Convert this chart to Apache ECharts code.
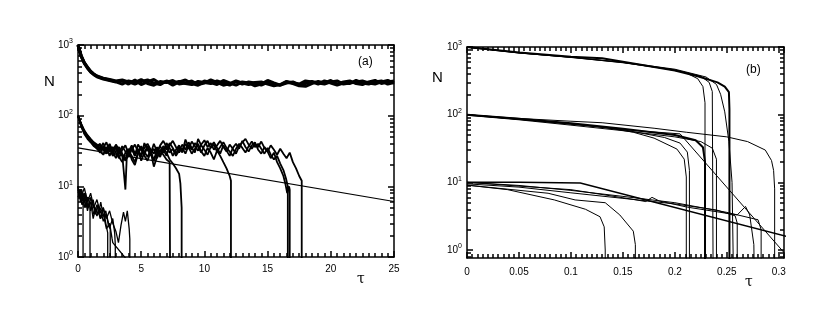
<!DOCTYPE html>
<html>
<head>
<meta charset="utf-8">
<script src="https://cdn.jsdelivr.net/npm/echarts@6/dist/echarts.min.js"></script>
<style>
  html, body { margin: 0; background: #fff; }
  #main { width: 830px; height: 322px; }
</style>
</head>
<body>
<div id="main"></div>
<script>
  // ---- tick labels ----
  const ticksAText = ['0', '5', '10', '15', '20', '25']
  const ticksBText = ['0', '0.05', '0.1', '0.15', '0.2', '0.25', '0.3']
  const decades = [0, 1, 2, 3] // exponents of 10 on the N axis

  // ---- panel (a) ----
  const tauBand = [0, 0.25, 0.5, 0.75, 1, 1.25, 1.5, 2, 2.5, 3,
    3.5, 4, 4.5, 5, 5.5, 6, 6.5, 7, 7.5, 8, 8.5, 9, 9.5, 10, 10.5, 11, 11.5, 12,
    12.5, 13, 13.5, 14, 14.5, 15, 15.5, 16, 16.5, 17, 17.5, 18, 18.5, 19, 19.5,
    20, 20.5, 21, 21.5, 22, 22.5, 23, 23.5, 24, 24.5, 25]
  const bandA1 = [1000, 700, 560, 480, 420, 385, 360, 335, 320, 305,
    310, 280, 320, 275, 300, 325, 285, 305, 270, 300,
    320, 285, 270, 310, 295, 275, 315, 290, 270, 300,
    290, 265, 280, 315, 290, 270, 300, 285, 265, 260,
    285, 305, 290, 315, 280, 300, 310, 285, 275, 300,
    315, 285, 300, 310]
  const bandA2 = [1000, 690, 550, 470, 415, 380, 355, 330, 315, 300,
    280, 310, 295, 325, 285, 270, 305, 295, 315, 280,
    290, 310, 275, 290, 320, 295, 270, 285, 310, 290,
    275, 295, 300, 280, 265, 275, 305, 290, 280, 310,
    300, 280, 310, 290, 270, 290, 285, 315, 290, 280,
    300, 310, 280, 295]
  const bandA3 = [1000, 710, 565, 485, 425, 390, 365, 340, 325, 310,
    320, 300, 280, 305, 320, 290, 275, 310, 290, 305,
    285, 275, 305, 295, 285, 310, 290, 270, 305, 280,
    300, 290, 270, 295, 280, 270, 290, 300, 275, 285,
    305, 290, 280, 300, 310, 280, 290, 300, 310, 290,
    280, 300, 315, 290]

  const midA1 = [[0, 100], [0.25, 74], [0.5, 60], [0.75, 50], [1, 45], [1.25, 41], [1.5, 37], [1.75, 40], [2, 32], [2.25, 36], [2.5, 27], [2.75, 33], [3, 38], [3.25, 26], [3.5, 22], [3.75, 30], [4, 34], [4.25, 24], [4.5, 20], [4.75, 29], [5, 35], [5.25, 27], [5.5, 23], [5.75, 31], [6, 19], [6.25, 26], [6.5, 33], [6.75, 28], [7, 24], [7.25, 22], [7.3, 0.1]]
  const midA2 = [[0, 100], [0.25, 72], [0.5, 57], [0.75, 49], [1, 43], [1.25, 38], [1.5, 34], [1.75, 30], [2, 37], [2.25, 29], [2.5, 40], [2.75, 31], [3, 25], [3.25, 34], [3.5, 28], [3.75, 9], [3.85, 24], [4, 30], [4.25, 36], [4.5, 27], [4.75, 33], [5, 23], [5.25, 30], [5.5, 37], [5.75, 29], [6, 40], [6.25, 31], [6.5, 26], [6.75, 35], [7, 30], [7.25, 24], [7.5, 21], [7.75, 18], [8, 15], [8.1, 11], [8.2, 5], [8.2, 0.1]]
  const midA3 = [[0, 100], [0.25, 77], [0.5, 62], [0.75, 53], [1, 47], [1.25, 42], [1.5, 39], [1.75, 34], [2, 41], [2.25, 31], [2.5, 35], [2.75, 28], [3, 39], [3.25, 33], [3.5, 27], [3.75, 23], [4, 31], [4.25, 38], [4.5, 29], [4.75, 34], [5, 26], [5.25, 41], [5.5, 33], [5.75, 28], [6, 24], [6.25, 32], [6.5, 37], [6.75, 30], [7, 41], [7.25, 35], [7.5, 27], [7.75, 33], [8, 38], [8.25, 30], [8.5, 46], [8.75, 36], [9, 29], [9.25, 34], [9.5, 40], [9.75, 31], [10, 27], [10.25, 35], [10.5, 30], [10.75, 24], [11, 32], [11.25, 27], [11.5, 22], [11.75, 18], [12, 14], [12.1, 12], [12.1, 0.1]]
  const midA4 = [[0, 100], [0.25, 70], [0.5, 55], [0.75, 47], [1, 42], [1.25, 37], [1.5, 35], [1.75, 38], [2, 33], [2.25, 29], [2.5, 36], [2.75, 27], [3, 31], [3.25, 36], [3.5, 29], [3.75, 24], [4, 32], [4.25, 27], [4.5, 22], [4.75, 30], [5, 37], [5.25, 31], [5.5, 26], [5.75, 33], [6, 23], [6.25, 29], [6.5, 38], [6.75, 44], [7, 36], [7.25, 30], [7.5, 34], [7.75, 27], [8, 32], [8.25, 39], [8.5, 33], [8.75, 42], [9, 35], [9.25, 30], [9.5, 47], [9.75, 38], [10, 33], [10.25, 28], [10.5, 36], [10.75, 42], [11, 35], [11.25, 29], [11.5, 38], [11.75, 32], [12, 27], [12.25, 35], [12.5, 40], [12.75, 34], [13, 44], [13.25, 36], [13.5, 31], [13.75, 38], [14, 42], [14.25, 33], [14.5, 29], [14.75, 36], [15, 31], [15.25, 25], [15.5, 30], [15.75, 22], [16, 18], [16.25, 14], [16.4, 11], [16.55, 8], [16.7, 10], [16.75, 9], [16.75, 0.1]]
  const midA5 = [[0, 100], [0.25, 76], [0.5, 60], [0.75, 52], [1, 46], [1.25, 40], [1.5, 38], [1.75, 33], [2, 35], [2.25, 42], [2.5, 31], [2.75, 36], [3, 30], [3.25, 25], [3.5, 33], [3.75, 38], [4, 29], [4.25, 34], [4.5, 27], [4.75, 39], [5, 33], [5.25, 28], [5.5, 36], [5.75, 30], [6, 34], [6.25, 25], [6.5, 31], [6.75, 37], [7, 33], [7.25, 41], [7.5, 35], [7.75, 29], [8, 36], [8.25, 31], [8.5, 40], [8.75, 34], [9, 43], [9.25, 37], [9.5, 32], [9.75, 39], [10, 45], [10.25, 36], [10.5, 41], [10.75, 33], [11, 38], [11.25, 44], [11.5, 36], [11.75, 31], [12, 39], [12.25, 34], [12.5, 29], [12.75, 37], [13, 42], [13.25, 47], [13.5, 39], [13.75, 34], [14, 40], [14.25, 36], [14.5, 43], [14.75, 35], [15, 31], [15.25, 38], [15.5, 33], [15.75, 28], [16, 34], [16.25, 29], [16.5, 25], [16.75, 30], [17, 22], [17.25, 18], [17.5, 14], [17.7, 12], [17.7, 0.1]]
  const midA6 = [[0, 100], [0.25, 73], [0.5, 58], [0.75, 51], [1, 44], [1.25, 39], [1.5, 36], [1.75, 31], [2, 28], [2.25, 34], [2.5, 39], [2.75, 30], [3, 35], [3.25, 29], [3.5, 37], [3.75, 31], [4, 26], [4.25, 33], [4.5, 39], [4.75, 31], [5, 28], [5.25, 35], [5.5, 40], [5.75, 33], [6, 29], [6.25, 36], [6.5, 28], [6.75, 33], [7, 27], [7.25, 38], [7.5, 44], [7.75, 36], [8, 30], [8.25, 35], [8.5, 29], [8.75, 38], [9, 33], [9.25, 41], [9.5, 36], [9.75, 30], [10, 38], [10.25, 44], [10.5, 35], [10.75, 39], [11, 31], [11.25, 36], [11.5, 42], [11.75, 35], [12, 31], [12.25, 27], [12.5, 34], [12.75, 40], [13, 35], [13.25, 30], [13.5, 37], [13.75, 43], [14, 36], [14.25, 40], [14.5, 34], [14.75, 29], [15, 35], [15.25, 28], [15.5, 24], [15.75, 27], [16, 21], [16.25, 17], [16.45, 13], [16.6, 10], [16.6, 0.1]]
  const fitA = [[0, 35], [25, 6.1]]

  const lowA1 = [[0, 9], [0.1, 7], [0.2, 8], [0.3, 5.5], [0.4, 6], [0.4, 0.1]]
  const lowA2 = [[0, 10], [0.15, 7], [0.3, 9], [0.45, 6], [0.6, 8], [0.75, 5], [0.9, 6], [0.95, 5], [0.95, 0.1]]
  const lowA3 = [[0, 10], [0.2, 6], [0.4, 8], [0.6, 5], [0.8, 7], [1, 4.5], [1.2, 6.5], [1.4, 4], [1.6, 5.5], [1.8, 3.5], [2, 5], [2.2, 3], [2.35, 2.2], [2.35, 0.1]]
  const lowA4 = [[0, 8], [0.2, 9], [0.4, 6], [0.6, 7.5], [0.8, 5], [1, 6], [1.2, 3.5], [1.4, 5], [1.6, 4], [1.8, 6], [2, 3.8], [2.2, 4.5], [2.4, 2.8], [2.55, 2.5], [2.55, 0.1]]
  const lowA5 = [[0, 7], [0.25, 9], [0.5, 5], [0.75, 7], [1, 6.5], [1.25, 4], [1.5, 5.5], [1.75, 3.5], [2, 4], [2.25, 2.5], [2.5, 3], [2.7, 1.8], [2.75, 1.6], [3.9, 0.9]]
  const lowA6 = [[0, 10], [0.25, 6], [0.5, 8], [0.75, 4.5], [1, 7], [1.25, 5], [1.5, 3.8], [1.75, 5], [2, 3.2], [2.25, 4], [2.5, 2.6], [2.75, 3.5], [2.9, 2.2], [2.95, 1.5], [2.95, 0.1]]
  const lowA7 = [[0, 9], [0.25, 7], [0.5, 9.5], [0.75, 6], [1, 8], [1.25, 5], [1.5, 6.5], [1.75, 4.2], [2, 5], [2.25, 3.5], [2.5, 4.5], [2.75, 3], [3, 2.3], [3.2, 1.6], [3.4, 2.8], [3.6, 4.3], [3.75, 3.2], [3.9, 4.5], [4.05, 2.5], [4.1, 1.8], [4.1, 0.1]]

  // ---- panel (b) ----
  const topB1 = [[0, 1000], [0.05, 830], [0.1, 720], [0.13, 680], [0.16, 570], [0.2, 450], [0.222, 370], [0.241, 300], [0.248, 260], [0.252, 215], [0.2525, 120], [0.2525, 0.1]]
  const topB2 = [[0, 1000], [0.05, 820], [0.1, 700], [0.15, 590], [0.19, 480], [0.21, 420], [0.222, 340], [0.227, 260], [0.229, 150], [0.229, 0.1]]
  const topB3 = [[0, 990], [0.05, 815], [0.1, 705], [0.15, 585], [0.2, 460], [0.225, 370], [0.233, 300], [0.236, 220], [0.237, 0.1]]
  const topB4 = [[0, 1000], [0.05, 825], [0.1, 710], [0.15, 595], [0.2, 470], [0.23, 360], [0.24, 280], [0.244, 200], [0.248, 110], [0.252, 40], [0.255, 10], [0.257, 0.1]]

  const midB1 = [[0, 100], [0.05, 88], [0.1, 80], [0.13, 76], [0.18, 63], [0.211, 55], [0.25, 47], [0.27, 40], [0.287, 30], [0.293, 21], [0.295, 15], [0.296, 8], [0.296, 0.1]]
  const midB2 = [[0, 100], [0.05, 86], [0.1, 72], [0.13, 66], [0.16, 55], [0.18, 45], [0.202, 31], [0.209, 22], [0.211, 12], [0.211, 0.1]]
  const midB3 = [[0, 100], [0.05, 85], [0.1, 74], [0.15, 60], [0.19, 46], [0.205, 38], [0.212, 28], [0.214, 15], [0.214, 0.1]]
  const midB4 = [[0, 100], [0.05, 87], [0.1, 75], [0.15, 62], [0.2, 50], [0.22, 42], [0.227, 33], [0.229, 20], [0.229, 0.1]]
  const midB5 = [[0, 98], [0.05, 84], [0.1, 70], [0.15, 58], [0.2, 47], [0.225, 40], [0.236, 32], [0.24, 22], [0.24, 0.1]]
  const midB6 = [[0, 100], [0.05, 86], [0.1, 73], [0.15, 60], [0.205, 52], [0.31, 0.75]]

  const lowB1 = [[0, 10], [0.05, 10], [0.109, 9.8], [0.31, 1.55]]
  const lowB2 = [[0, 10], [0.05, 8.8], [0.1, 7.8], [0.16, 5.6], [0.172, 5.2], [0.178, 6], [0.185, 5.3], [0.212, 4.3], [0.26, 3.3], [0.268, 4.4], [0.272, 3.3], [0.276, 1.2], [0.277, 0.1]]
  const lowB3 = [[0, 9.1], [0.078, 6.9], [0.104, 5.5], [0.133, 5], [0.147, 3.3], [0.16, 1.9], [0.162, 1.2], [0.162, 0.1]]
  const lowB4 = [[0, 9.1], [0.039, 7.8], [0.084, 5.5], [0.114, 4], [0.128, 3.1], [0.132, 2.2], [0.133, 1], [0.133, 0.1]]
  const lowB5 = [[0, 9.5], [0.05, 8.5], [0.1, 7], [0.15, 5.8], [0.2, 4.8], [0.24, 3.9], [0.258, 3.2], [0.26, 2.5], [0.26, 0.1]]
  const lowB6 = [[0, 10], [0.05, 9], [0.1, 7.6], [0.15, 6.2], [0.2, 5], [0.25, 3.6], [0.28, 2.8], [0.283, 2], [0.283, 0.1]]

  // ---- axes helpers ----
  const font = 'Liberation Sans, Arial, sans-serif'
  const black = '#000'
  const minA = 1
  const minB = 0.762
  const logMinor = (lo) => {
    const arr = []
    for (let d = -1; d < 3; d++) {
      for (let k = 2; k <= 9; k++) {
        const v = d + Math.log10(k)
        if (v > lo) arr.push(v)
      }
    }
    return arr
  }

  // overlay value axis in log10 units, only for the frame, ticks and labels
  const yFrame = (g, lo, pos, major) => ({
    type: 'value', gridIndex: g, min: Math.log10(lo), max: 3, position: pos,
    axisLine: { show: major, onZero: false, lineStyle: { color: black, width: 1.5 } },
    axisTick: {
      show: true, inside: true, length: major ? 6 : 4,
      lineStyle: { color: black, width: 1.5 },
      customValues: major ? decades : logMinor(Math.log10(lo)),
    },
    axisLabel: {
      show: major && pos === 'left',
      customValues: decades,
      margin: 5,
      formatter: (v) => `{b|10}{s|${Math.round(v)}}`,
      rich: {
        b: { fontSize: 10, fontFamily: font, color: black },
        s: { fontSize: 7, fontFamily: font, color: black, padding: [0, 0, 7, 0] },
      },
    },
    splitLine: { show: false },
  })
  const yData = (g, lo) => ({
    type: 'log', logBase: 10, gridIndex: g, min: lo, max: 1000, show: false,
  })

  // major: labelled ticks; minor: short ticks at a fixed step from 0
  const xFrame = (g, max, pos, major, step, texts, margin, lastLabel) => ({
    type: 'value', gridIndex: g, min: 0, max: max, interval: step, position: pos,
    axisLine: { show: major, onZero: false, lineStyle: { color: black, width: 1.5 } },
    axisTick: {
      show: true, inside: true, length: major ? 6 : 4,
      lineStyle: { color: black, width: 1.5 },
    },
    axisLabel: {
      show: major && pos === 'bottom',
      showMaxLabel: lastLabel,
      showMinLabel: true,
      hideOverlap: false,
      margin: margin,
      fontSize: 10, fontFamily: font, color: black,
      formatter: (v) => {
        const i = Math.round(v / step)
        return texts ? (texts[i] || '') : String(v)
      },
    },
    splitLine: { show: false },
  })

  const line = (data, xi, yi, w) => ({
    type: 'line', xAxisIndex: xi, yAxisIndex: yi, data: data,
    showSymbol: false, symbol: 'none', smooth: false, clip: true,
    lineStyle: { color: black, width: w || 1 },
    silent: true,
  })

  const option = {
    animation: false,
    backgroundColor: '#fff',
    grid: [
      { left: 78, top: 45, width: 316, height: 212 },
      { left: 467, top: 47, width: 317, height: 211 },
    ],
    xAxis: [
      xFrame(0, 25, 'bottom', true, 5, ticksAText, 7, true), // 0 data a
      xFrame(0, 25, 'bottom', false, 0.5, null, 7, false),
      xFrame(0, 25, 'top', true, 5, ticksAText, 7, false),
      xFrame(0, 25, 'top', false, 0.5, null, 7, false),
      xFrame(1, 0.305, 'bottom', true, 0.05, ticksBText, 9, false), // 4 data b
      xFrame(1, 0.305, 'bottom', false, 0.005, null, 9, false),
      xFrame(1, 0.305, 'top', true, 0.05, ticksBText, 9, false),
      xFrame(1, 0.305, 'top', false, 0.005, null, 9, false),
    ],
    yAxis: [
      yData(0, minA), // 0
      yFrame(0, minA, 'left', true),
      yFrame(0, minA, 'left', false),
      yFrame(0, minA, 'right', true),
      yFrame(0, minA, 'right', false),
      yData(1, minB), // 5
      yFrame(1, minB, 'left', true),
      yFrame(1, minB, 'left', false),
      yFrame(1, minB, 'right', true),
      yFrame(1, minB, 'right', false),
    ],
    graphic: [
      { type: 'text', left: 44, top: 74, style: { text: 'N', fontSize: 15, fontFamily: font, fill: black } },
      { type: 'text', left: 432, top: 70, style: { text: 'N', fontSize: 15, fontFamily: font, fill: black } },
      { type: 'text', left: 357, top: 272, style: { text: 'τ', fontSize: 14, fontFamily: 'DejaVu Serif, serif', fill: black } },
      { type: 'text', left: 745, top: 275, style: { text: 'τ', fontSize: 14, fontFamily: 'DejaVu Serif, serif', fill: black } },
      { type: 'text', left: 358, top: 56, style: { text: '(a)', fontSize: 12, fontFamily: font, fill: black } },
      { type: 'text', left: 746, top: 64, style: { text: '(b)', fontSize: 12, fontFamily: font, fill: black } },
    ],
    series: [],
  }

  const tz = (ys) => tauBand.map((t, i) => [t, ys[i]])
  ;[tz(bandA1), tz(bandA2), tz(bandA3)].forEach((d) => option.series.push(line(d, 0, 0, 3)))
  ;[midA1, midA2, midA3, midA4, midA5, midA6].forEach((d) => option.series.push(line(d, 0, 0, 1.8)))
  option.series.push(line(fitA, 0, 0, 1.2))
  ;[lowA1, lowA2, lowA3, lowA4, lowA5, lowA6, lowA7].forEach((d) => option.series.push(line(d, 0, 0, 1.3)))

  option.series.push(line(topB1, 4, 5, 2))
  ;[topB2, topB3, topB4].forEach((d) => option.series.push(line(d, 4, 5, 1)))
  ;[midB1, midB2, midB3, midB5, midB6].forEach((d) => option.series.push(line(d, 4, 5, 1)))
  option.series.push(line(midB4, 4, 5, 2))
  option.series.push(line(lowB1, 4, 5, 1.5))
  ;[lowB2, lowB3, lowB4, lowB5, lowB6].forEach((d) => option.series.push(line(d, 4, 5, 1)))

  const chart = echarts.init(document.getElementById('main'))
  chart.setOption(option)
</script>
</body>
</html>
